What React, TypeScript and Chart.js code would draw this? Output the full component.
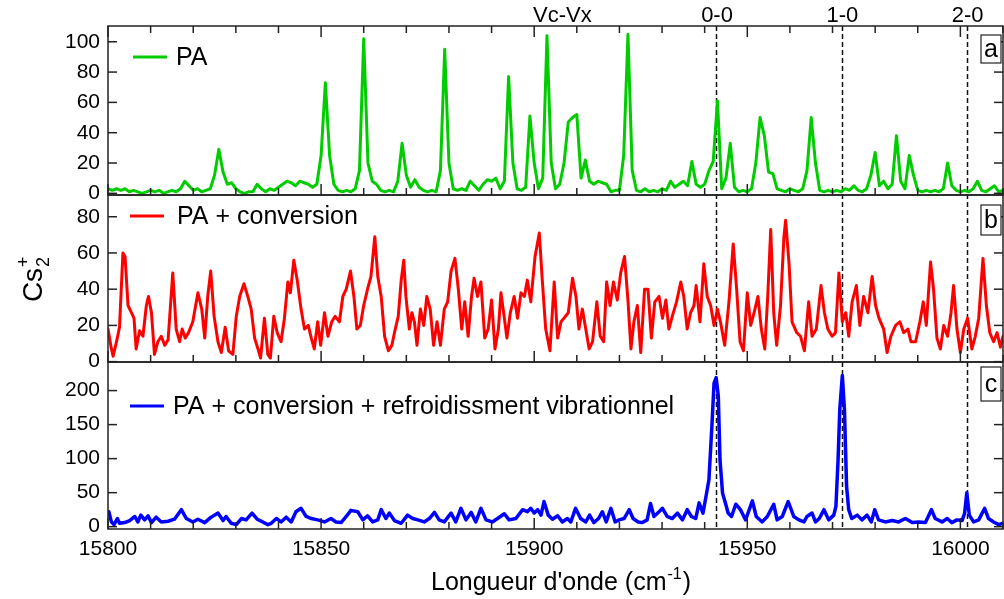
import React, { useEffect, useRef } from 'react';
import { Chart, registerables } from 'chart.js';

Chart.register(...registerables);

// ---------- axis / tick data ----------
const X_MIN = 15800;
const X_MAX = 16010;
const X_TICKS = [15800, 15810, 15820, 15830, 15840, 15850, 15860, 15870, 15880, 15890, 15900, 15910, 15920, 15930, 15940, 15950, 15960, 15970, 15980, 15990, 16000, 16010];
const X_LABELS = [15800, 15850, 15900, 15950, 16000];
const YA_TICKS = [0, 20, 40, 60, 80, 100];
const YB_TICKS = [0, 20, 40, 60, 80];
const YC_TICKS = [0, 50, 100, 150, 200];

// transitions (dashed lines) and top labels
const LINE_POS = [15942.6, 15972.3, 16001.5];
const TOP_LABELS = ['Vc-Vx', '0-0', '1-0', '2-0'];
const TOP_LABEL_POS = [15906.6, 15942.9, 15972.3, 16001.7];

const SERIES_NAMES = ['PA', 'PA + conversion', 'PA + conversion + refroidissment vibrationnel'];
const PANEL_LETTERS = ['a', 'b', 'c'];

// ---------- series a : PA (one value per cm-1 from 15800) ----------
const PA_START = 15800;
const PA_Y = [
  3, 2, 3, 2, 3, 1, 2, 1, 0, 1,
  2, 1, 2, 0, 1, 2, 1, 3, 8, 5,
  2, 3, 1, 2, 3, 12, 29, 14, 6, 7,
  3, 1, 0, 1, 1, 6, 3, 1, 3, 2,
  4, 6, 8, 7, 5, 8, 7, 6, 4, 6,
  25, 73, 25, 6, 2, 1, 2, 1, 3, 15,
  102, 20, 8, 6, 2, 1, 2, 1, 8, 33,
  12, 4, 9, 4, 2, 1, 2, 1, 15, 95,
  20, 3, 2, 3, 2, 8, 5, 2, 6, 9,
  8, 10, 3, 8, 77, 20, 3, 2, 4, 51,
  20, 3, 10, 104, 20, 3, 6, 20, 47, 50,
  52, 10, 22, 8, 6, 8, 7, 6, 1, 2,
  2, 25, 105, 15, 2, 1, 3, 1, 2, 1,
  3, 2, 8, 4, 6, 8, 5, 21, 6, 4,
  6, 15, 21, 61, 3, 10, 33, 4, 1, 2,
  1, 3, 20, 50, 38, 14, 13, 3, 2, 1,
  3, 2, 1, 3, 15, 50, 20, 2, 1, 2,
  1, 2, 1, 3, 2, 5, 2, 1, 3, 12,
  27, 5, 8, 3, 6, 38, 8, 3, 25, 12,
  2, 1, 2, 1, 2, 1, 3, 20, 5, 2,
  1, 2, 1, 3, 8, 2, 1, 3, 5, 1,
  2,
];

// ---------- series b : PA + conversion ----------
const CONV_X = [
  15800.0, 15800.8, 15801.2, 15802.0, 15802.7, 15803.5, 15804.0, 15804.7, 15805.5, 15806.1,
  15806.6, 15807.4, 15808.2, 15809.0, 15809.5, 15810.2, 15810.9, 15811.7, 15812.5, 15813.3,
  15814.1, 15815.2, 15816.0, 15816.8, 15817.4, 15818.1, 15818.9, 15819.9, 15821.1, 15822.0,
  15822.7, 15823.4, 15824.1, 15824.9, 15825.8, 15826.6, 15827.5, 15828.3, 15829.3, 15830.1,
  15830.9, 15831.9, 15832.8, 15833.6, 15834.4, 15835.2, 15835.8, 15836.7, 15837.5, 15838.1,
  15838.9, 15839.7, 15840.6, 15841.4, 15842.2, 15842.8, 15843.6, 15844.4, 15845.3, 15846.1,
  15847.0, 15847.7, 15848.4, 15849.2, 15849.9, 15850.8, 15851.6, 15852.5, 15853.3, 15854.3,
  15855.1, 15855.9, 15856.9, 15857.7, 15858.4, 15859.2, 15860.0, 15860.9, 15861.7, 15862.6,
  15863.3, 15864.1, 15864.9, 15865.8, 15866.6, 15867.4, 15868.1, 15868.8, 15869.4, 15869.9,
  15870.7, 15871.3, 15871.9, 15872.5, 15873.3, 15874.1, 15874.8, 15875.6, 15876.4, 15877.2,
  15878.0, 15878.9, 15879.7, 15880.5, 15881.4, 15882.2, 15883.0, 15883.7, 15884.5, 15885.3,
  15885.9, 15886.7, 15887.5, 15888.4, 15889.2, 15890.0, 15890.8, 15891.6, 15892.2, 15893.0,
  15893.6, 15894.4, 15895.3, 15896.1, 15896.9, 15897.7, 15898.4, 15899.2, 15900.2, 15901.2,
  15901.9, 15902.7, 15903.7, 15904.7, 15905.5, 15906.3, 15907.0, 15908.0, 15909.0, 15909.8,
  15910.5, 15911.3, 15912.1, 15912.9, 15913.7, 15914.7, 15915.5, 15916.3, 15917.0, 15917.8,
  15918.6, 15919.5, 15920.3, 15921.2, 15922.0, 15922.7, 15923.4, 15924.2, 15925.0, 15925.9,
  15926.7, 15927.5, 15928.3, 15929.3, 15930.1, 15930.9, 15931.6, 15932.4, 15933.4, 15934.4,
  15935.1, 15935.9, 15936.7, 15937.5, 15938.0, 15938.9, 15939.8, 15940.6, 15941.4, 15942.2,
  15943.0, 15943.7, 15944.7, 15945.7, 15946.7, 15947.5, 15948.3, 15949.1, 15950.0, 15950.8,
  15951.6, 15952.5, 15953.3, 15954.1, 15954.8, 15955.5, 15956.2, 15956.9, 15957.8, 15958.6,
  15959.0, 15959.8, 15960.5, 15961.6, 15962.5, 15963.4, 15964.4, 15965.2, 15966.2, 15967.3,
  15968.1, 15968.9, 15969.9, 15970.7, 15971.5, 15972.3, 15973.1, 15973.8, 15974.6, 15975.6,
  15976.4, 15977.3, 15978.3, 15979.3, 15980.1, 15980.9, 15982.0, 15982.8, 15983.7, 15984.8,
  15985.8, 15986.7, 15987.7, 15988.4, 15989.5, 15990.5, 15991.3, 15992.0, 15993.0, 15993.7,
  15994.5, 15995.3, 15996.1, 15997.0, 15997.8, 15998.4, 15999.2, 16000.0, 16000.8, 16001.7,
  16002.7, 16003.5, 16004.3, 16005.3, 16006.1, 16006.9, 16007.8, 16008.6, 16009.4, 16010.0,
];
const CONV_Y = [
  18, 7, 3, 11, 19, 60, 58, 31, 27, 24,
  7, 17, 14, 31, 36, 27, 4, 11, 14, 9,
  12, 49, 18, 11, 18, 13, 16, 22, 38, 29,
  13, 36, 50, 25, 11, 5, 19, 6, 4, 25,
  36, 43, 36, 29, 13, 7, 2, 24, 4, 2,
  25, 16, 11, 24, 44, 38, 56, 45, 29, 18,
  20, 13, 7, 22, 9, 27, 14, 22, 25, 22,
  36, 40, 50, 36, 18, 20, 31, 40, 47, 69,
  47, 36, 14, 6, 9, 18, 25, 45, 56, 36,
  18, 27, 22, 9, 29, 20, 36, 29, 9, 22,
  9, 29, 33, 50, 57, 40, 18, 33, 14, 36,
  46, 36, 44, 13, 18, 34, 7, 18, 38, 24,
  13, 27, 36, 24, 38, 36, 45, 33, 58, 71,
  45, 18, 6, 44, 13, 22, 24, 27, 46, 36,
  18, 29, 18, 7, 11, 33, 14, 11, 44, 31,
  44, 34, 49, 58, 34, 7, 22, 31, 5, 40,
  40, 13, 33, 36, 24, 34, 18, 25, 33, 44,
  36, 18, 27, 31, 42, 22, 54, 36, 31, 20,
  29, 22, 9, 33, 65, 40, 11, 6, 38, 20,
  27, 36, 18, 7, 36, 73, 27, 9, 31, 69,
  78, 54, 22, 16, 14, 6, 33, 14, 18, 42,
  27, 18, 14, 16, 49, 22, 27, 14, 33, 42,
  20, 36, 27, 47, 31, 24, 18, 5, 14, 20,
  22, 16, 18, 11, 11, 22, 33, 20, 55, 40,
  13, 7, 20, 14, 27, 42, 18, 5, 18, 24,
  7, 14, 24, 57, 31, 16, 11, 16, 8, 14,
];

// ---------- series c : PA + conversion + refroidissement ----------
const COOL_X = [
  15800.2, 15800.8, 15801.4, 15802.2, 15802.7, 15803.9, 15805.1, 15806.3, 15807.0, 15807.7,
  15808.6, 15809.4, 15810.2, 15811.3, 15812.5, 15814.1, 15815.6, 15817.2, 15818.4, 15819.9,
  15821.1, 15822.7, 15824.2, 15825.8, 15827.0, 15827.7, 15828.9, 15830.1, 15831.3, 15832.4,
  15833.8, 15835.0, 15836.3, 15837.5, 15838.3, 15839.5, 15840.6, 15841.8, 15843.0, 15844.1,
  15845.3, 15846.5, 15847.7, 15849.2, 15850.8, 15852.3, 15853.5, 15854.7, 15855.9, 15857.0,
  15858.6, 15859.8, 15860.9, 15862.1, 15863.3, 15864.1, 15865.2, 15866.0, 15867.2, 15868.8,
  15870.3, 15871.5, 15872.7, 15874.2, 15875.4, 15876.6, 15877.7, 15878.9, 15880.5, 15881.6,
  15882.8, 15884.0, 15885.2, 15886.3, 15887.5, 15888.7, 15890.2, 15891.4, 15893.0, 15894.1,
  15895.7, 15897.3, 15898.4, 15899.2, 15900.0, 15900.8, 15901.6, 15902.3, 15903.3, 15904.3,
  15905.5, 15906.6, 15907.8, 15908.6, 15909.7, 15910.9, 15912.1, 15913.0, 15914.0, 15915.1,
  15916.0, 15916.9, 15918.0, 15919.0, 15919.9, 15921.1, 15922.3, 15923.2, 15924.4, 15925.4,
  15926.5, 15927.3, 15928.1, 15929.3, 15930.1, 15931.2, 15932.4, 15933.6, 15934.8, 15935.9,
  15936.9, 15937.9, 15938.7, 15939.6, 15940.3, 15941.0, 15941.7, 15942.2, 15942.7, 15943.2,
  15943.6, 15944.2, 15944.9, 15945.5, 15946.3, 15947.3, 15948.4, 15949.6, 15951.2, 15952.1,
  15953.5, 15954.7, 15956.2, 15957.0, 15958.2, 15959.6, 15960.9, 15962.1, 15963.3, 15964.0,
  15965.2, 15966.0, 15966.9, 15968.0, 15969.1, 15970.3, 15970.8, 15971.3, 15971.7, 15972.3,
  15972.8, 15973.3, 15973.8, 15974.5, 15975.8, 15976.9, 15978.1, 15979.1, 15979.9, 15980.8,
  15982.4, 15984.0, 15985.5, 15987.1, 15988.7, 15990.2, 15991.8, 15993.2, 15994.1, 15995.7,
  15996.9, 15998.0, 15999.2, 16000.4, 16001.0, 16001.5, 16002.1, 16003.1, 16004.3, 16005.7,
  16006.6, 16007.8, 16009.0, 16010.0,
];
const COOL_Y = [
  22, 7, 3, 12, 5, 6, 9, 15, 7, 17,
  10, 16, 6, 14, 7, 8, 11, 25, 12, 7,
  11, 6, 14, 20, 9, 15, 5, 3, 12, 10,
  20, 11, 7, 3, 5, 12, 7, 14, 7, 22,
  27, 15, 12, 10, 7, 12, 7, 6, 15, 24,
  22, 10, 16, 7, 10, 25, 12, 20, 9, 5,
  17, 12, 10, 7, 12, 21, 10, 7, 20, 7,
  27, 10, 21, 7, 27, 10, 7, 12, 19, 10,
  12, 25, 22, 27, 20, 25, 17, 37, 17, 11,
  16, 7, 12, 7, 27, 12, 7, 17, 6, 12,
  22, 7, 27, 7, 10, 12, 25, 12, 7, 6,
  10, 34, 15, 22, 27, 15, 12, 20, 10, 25,
  15, 12, 35, 20, 44, 69, 148, 211, 219, 192,
  98, 49, 34, 20, 15, 33, 25, 10, 38, 15,
  7, 15, 33, 10, 15, 37, 15, 10, 7, 15,
  20, 7, 12, 25, 10, 17, 30, 98, 172, 222,
  172, 59, 25, 12, 17, 10, 17, 7, 25, 10,
  7, 9, 7, 12, 6, 7, 6, 25, 12, 7,
  12, 6, 10, 9, 20, 50, 17, 7, 10, 27,
  12, 7, 3, 5,
];

const FONT = '"Liberation Sans", Arial, sans-serif';
const COLORS = ['#00cc00', '#ff0000', '#0000ff'];

function toPoints(xs: number[], ys: number[]) {
  return ys.map((y, i) => ({ x: xs[i], y }));
}

const decorPlugin = {
  id: 'decor',
  beforeDatasetsDraw(chart: any) {
    const ctx = chart.ctx;
    const xs = chart.scales.x;
    const area = chart.chartArea;
    ctx.save();
    ctx.strokeStyle = '#111';
    ctx.lineWidth = 1.5;
    ctx.setLineDash([5, 3]);
    for (const v of LINE_POS) {
      const px = Math.round(xs.getPixelForValue(v)) + 0.5;
      ctx.beginPath();
      ctx.moveTo(px, area.top);
      ctx.lineTo(px, area.bottom);
      ctx.stroke();
    }
    ctx.restore();
  },
  afterDraw(chart: any) {
    const ctx = chart.ctx;
    const xs = chart.scales.x;
    const area = chart.chartArea;
    const left = area.left;
    const right = area.right;
    const ids = ['ya', 'yb', 'yc'];
    ctx.save();
    ctx.strokeStyle = '#222';
    ctx.lineWidth = 1.5;
    ctx.setLineDash([]);
    const line = (x1: number, y1: number, x2: number, y2: number) => {
      ctx.beginPath();
      ctx.moveTo(x1, y1);
      ctx.lineTo(x2, y2);
      ctx.stroke();
    };
    ids.forEach((id, pi) => {
      const s = chart.scales[id];
      const top = s.top;
      const bottom = s.bottom;
      ctx.strokeRect(left, top, right - left, bottom - top);
      for (const t of s.ticks) {
        const y = s.getPixelForValue(t.value);
        line(left, y, left + 9, y);
        line(right - 9, y, right, y);
      }
      for (const v of X_TICKS) {
        const x = xs.getPixelForValue(v);
        const len = X_LABELS.includes(v) ? 11 : 7;
        line(x, bottom, x, bottom - len);
        if (pi === 0) line(x, top, x, top + len);
      }
      // legend
      const ly = pi === 0 ? top + 31 : pi === 1 ? top + 21 : top + 44;
      const lx0 = pi === 0 ? 133 : 130;
      ctx.save();
      ctx.strokeStyle = COLORS[pi];
      ctx.lineWidth = 3;
      line(lx0, ly, lx0 + 34, ly);
      ctx.restore();
      ctx.fillStyle = '#000';
      ctx.font = `25px ${FONT}`;
      ctx.textAlign = 'left';
      ctx.textBaseline = 'middle';
      const tx = pi === 0 ? 176 : pi === 1 ? 177 : 173;
      ctx.fillText(SERIES_NAMES[pi], tx, ly + 1);
      // panel letter box
      const bTop = pi === 0 ? top + 9 : pi === 1 ? top + 10 : top + 5;
      const bH = pi === 0 ? 28 : pi === 1 ? 30 : 34;
      ctx.save();
      ctx.lineWidth = 1.2;
      ctx.fillStyle = '#fff';
      ctx.fillRect(981, bTop, 20, bH);
      ctx.strokeRect(981, bTop, 20, bH);
      ctx.restore();
      ctx.fillStyle = '#000';
      ctx.textAlign = 'center';
      ctx.fillText(PANEL_LETTERS[pi], 991, bTop + bH / 2 + 1);
    });
    // top labels
    ctx.fillStyle = '#000';
    ctx.font = `22px ${FONT}`;
    ctx.textAlign = 'center';
    ctx.textBaseline = 'middle';
    TOP_LABELS.forEach((lab, i) => {
      ctx.fillText(lab, xs.getPixelForValue(TOP_LABEL_POS[i]), 16);
    });
    // x title
    ctx.textBaseline = 'alphabetic';
    ctx.textAlign = 'left';
    const big = `25px ${FONT}`;
    const small = `16px ${FONT}`;
    ctx.font = big;
    const t1 = "Longueur d'onde (cm";
    const w1 = ctx.measureText(t1).width;
    ctx.font = small;
    const t2 = '-1';
    const w2 = ctx.measureText(t2).width;
    ctx.font = big;
    const t3 = ')';
    const w3 = ctx.measureText(t3).width;
    let sx = 560 - (w1 + w2 + w3) / 2;
    const by = 590;
    ctx.fillText(t1, sx, by);
    sx += w1;
    ctx.font = small;
    ctx.fillText(t2, sx + 1, by - 11);
    sx += w2 + 2;
    ctx.font = big;
    ctx.fillText(t3, sx, by);
    // y title Cs2+
    ctx.save();
    ctx.translate(42, 280);
    ctx.rotate(-Math.PI / 2);
    const yBig = `28px ${FONT}`;
    const ySmall = `18px ${FONT}`;
    ctx.font = yBig;
    const wc = ctx.measureText('Cs').width;
    ctx.font = ySmall;
    const ws = ctx.measureText('2').width;
    const x0 = -(wc + ws) / 2;
    ctx.font = yBig;
    ctx.fillText('Cs', x0, 0);
    ctx.font = ySmall;
    ctx.fillText('2', x0 + wc + 1, 7);
    ctx.fillText('+', x0 + wc + 1, -13);
    ctx.restore();
    ctx.restore();
  },
};

export default function App() {
  const ref = useRef<HTMLCanvasElement | null>(null);
  useEffect(() => {
    if (!ref.current) return;
    const tickFont = { family: FONT, size: 21 };
    const yAxis = (ticks: number[], min: number, max: number, weight: number) => ({
      type: 'linear' as const,
      position: 'left' as const,
      stack: 'panels',
      stackWeight: weight,
      min,
      max,
      grid: { display: false, drawTicks: false },
      border: { display: false },
      afterBuildTicks: (s: any) => {
        s.ticks = ticks.map((v) => ({ value: v }));
      },
      afterFit: (s: any) => {
        s.width = 100;
        s.paddingTop = 0;
        s.paddingBottom = 0;
      },
      ticks: {
        autoSkip: false,
        padding: 8,
        color: '#000',
        font: tickFont,
        callback: (v: any) => String(v),
      },
    });
    const lineStyle = {
      pointRadius: 0,
      borderJoinStyle: 'round' as const,
      borderCapStyle: 'round' as const,
      xAxisID: 'x',
    };
    const chart = new Chart(ref.current, {
      type: 'line',
      data: {
        datasets: [
          {
            label: SERIES_NAMES[0],
            data: PA_Y.map((y, i) => ({ x: PA_START + i, y })),
            borderColor: COLORS[0],
            borderWidth: 3,
            yAxisID: 'ya',
            ...lineStyle,
          },
          {
            label: SERIES_NAMES[1],
            data: toPoints(CONV_X, CONV_Y),
            borderColor: COLORS[1],
            borderWidth: 3,
            yAxisID: 'yb',
            ...lineStyle,
          },
          {
            label: SERIES_NAMES[2],
            data: toPoints(COOL_X, COOL_Y),
            borderColor: COLORS[2],
            borderWidth: 3.5,
            yAxisID: 'yc',
            ...lineStyle,
          },
        ],
      },
      options: {
        animation: false,
        responsive: false,
        devicePixelRatio: 1,
        layout: { padding: { left: 8, right: 1, top: 26, bottom: 0 } },
        plugins: { legend: { display: false }, tooltip: { enabled: false } },
        elements: { line: { tension: 0 } },
        scales: {
          x: {
            type: 'linear',
            position: 'bottom',
            min: X_MIN,
            max: X_MAX,
            grid: { display: false, drawTicks: false },
            border: { display: false },
            afterBuildTicks: (s: any) => {
              s.ticks = X_TICKS.map((v) => ({ value: v }));
            },
            afterFit: (s: any) => {
              s.height = 70;
              s.paddingLeft = 0;
              s.paddingRight = 0;
            },
            ticks: {
              autoSkip: false,
              maxRotation: 0,
              padding: 8,
              color: '#000',
              font: tickFont,
              callback: (v: any) => (X_LABELS.includes(Number(v)) ? String(v) : ''),
            },
          },
          yc: yAxis(YC_TICKS, -3.4, 242, 167),
          yb: yAxis(YB_TICKS, -0.2, 92, 167),
          ya: yAxis(YA_TICKS, -1.1, 110.4, 169),
        } as any,
      },
      plugins: [decorPlugin],
    });
    return () => chart.destroy();
  }, []);
  return (
    <div style={{ position: 'fixed', left: 0, top: 0, width: 1004, height: 599, background: '#fff' }}>
      <canvas ref={ref} width={1004} height={599} />
    </div>
  );
}
